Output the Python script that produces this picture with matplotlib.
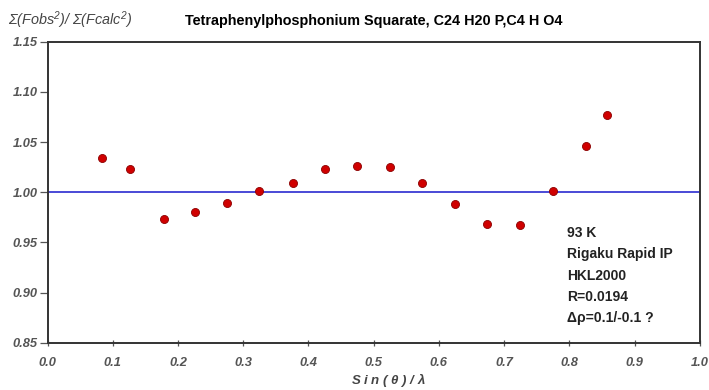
import matplotlib
matplotlib.use("Agg", force=True)

import numpy as np
import matplotlib.pyplot as plt
from matplotlib.ticker import FormatStrFormatter

plt.ioff()

# sin(theta)/lambda bins and the intensity ratio in each
stol = [0.083, 0.127, 0.178, 0.226, 0.275, 0.325, 0.376, 0.425, 0.475,
        0.525, 0.574, 0.625, 0.674, 0.725, 0.775, 0.825, 0.858]
ratio = [1.034, 1.023, 0.973, 0.980, 0.989, 1.001, 1.009, 1.023, 1.026,
         1.025, 1.009, 0.988, 0.968, 0.967, 1.001, 1.046, 1.077]

x_ticks = np.arange(0.0, 1.01, 0.1)
y_ticks = np.arange(0.85, 1.151, 0.05)

info_lines = ["93 K", "Rigaku Rapid IP", "HKL2000", "R=0.0194",
              "\u0394\u03c1=0.1/-0.1 ?"]

plt.rcParams["font.family"] = ["Liberation Sans", "DejaVu Sans"]
plt.rcParams["mathtext.fontset"] = "custom"
plt.rcParams["mathtext.it"] = "Liberation Sans:italic:bold"
plt.rcParams["mathtext.rm"] = "Liberation Sans:italic"

fig = plt.figure(figsize=(7.09, 3.9), dpi=100)
ax = fig.add_axes([0.067, 0.121, 0.920, 0.772])

ax.axhline(1.0, color="#2b2bd0", lw=1.2, zorder=1)
ax.plot(stol, ratio, "o", color="#d00000", mec="#8a0000", mew=0.6,
        ms=5.8, zorder=3)

ax.set_xlim(0, 1)
ax.set_ylim(0.85, 1.15)
ax.set_xticks(x_ticks)
ax.set_yticks(y_ticks)
ax.xaxis.set_major_formatter(FormatStrFormatter("%.1f"))
ax.yaxis.set_major_formatter(FormatStrFormatter("%.2f"))

for side in ["left", "bottom", "top", "right"]:
    ax.spines[side].set_linewidth(1.4)
    ax.spines[side].set_color("#333333")

ax.tick_params(axis="both", width=0.9, color="#555555",
               labelcolor="#555555", labelsize=9.3)
ax.tick_params(axis="y", direction="out", length=5.5, pad=1.5)
ax.tick_params(axis="x", direction="inout", length=4, pad=8)
for lab in ax.get_xticklabels() + ax.get_yticklabels():
    lab.set_fontstyle("italic")
    lab.set_fontweight("bold")

fig.text(0.261, 0.945, "Tetraphenylphosphonium Squarate, C24 H20 P,C4 H O4",
         fontsize=10.4, fontweight="bold", va="center", ha="left")
fig.text(0.011, 0.948, "\u03a3(Fobs$^{2}$)/ \u03a3(Fcalc$^{2}$)",
         fontsize=10.4, fontstyle="italic", color="#444444",
         va="center", ha="left")
fig.text(0.548, 0.026, r"S i n ( $\theta$ ) / $\lambda$",
         fontsize=9.5, fontstyle="italic", fontweight="bold",
         color="#444444", va="center", ha="center")

for i, line in enumerate(info_lines):
    ax.text(0.796, 0.365 - i * 0.071, line, transform=ax.transAxes,
            fontsize=10, fontweight="bold", color="#222222",
            va="center", ha="left")

fig.savefig("out.png", dpi=100)
plt.close(fig)
